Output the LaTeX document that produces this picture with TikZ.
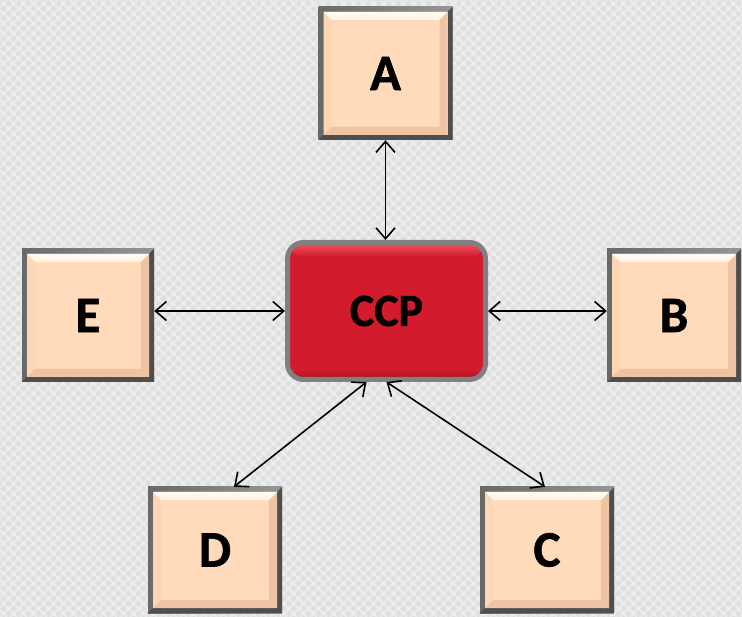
\documentclass[tikz,border=0pt]{standalone}
\usepackage{fontspec}
\setmainfont{Carlito}[BoldFeatures={FakeBold=1.2}]
\usetikzlibrary{calc,arrows.meta}

\definecolor{bgfill}{RGB}{222,222,222}
\definecolor{peach}{RGB}{255,219,188}
\definecolor{peachlight}{RGB}{255,244,226}
\definecolor{peachside}{RGB}{253,214,182}
\definecolor{peachdark}{RGB}{238,196,162}
\definecolor{framelight}{RGB}{150,150,150}
\definecolor{framedark}{RGB}{78,78,78}
\definecolor{ccpred}{RGB}{210,28,45}
\definecolor{ccpshine}{RGB}{242,86,100}
\definecolor{ccpshadow}{RGB}{160,20,32}
\definecolor{ccpframe}{RGB}{128,128,128}

\tikzset{
  % peach box with a grey frame and bevelled inner edges
  bevelbox/.style={rectangle, minimum width=134pt, minimum height=133pt,
    inner sep=0pt, fill=peach,
    font=\fontsize{51}{51}\selectfont\bfseries,
    path picture={
      \path (path picture bounding box.north west) coordinate (bb-nw)
            (path picture bounding box.north east) coordinate (bb-ne)
            (path picture bounding box.south west) coordinate (bb-sw)
            (path picture bounding box.south east) coordinate (bb-se);
      \fill[left color=framelight!70!black, right color=framelight] (bb-nw) rectangle (bb-se);
      \fill[framedark] (bb-ne) -- (bb-se) -- (bb-sw) -- ($(bb-sw)+(5pt,5pt)$)
        -- ($(bb-se)+(-5pt,5pt)$) -- ($(bb-ne)+(-5pt,-5pt)$) -- cycle;
      \fill[peach] ($(bb-nw)+(5pt,-5pt)$) rectangle ($(bb-se)+(-5pt,5pt)$);
      \fill[peachside] ($(bb-nw)+(5pt,-5pt)$) -- ($(bb-nw)+(13pt,-13pt)$)
        -- ($(bb-sw)+(13pt,13pt)$) -- ($(bb-sw)+(5pt,5pt)$) -- cycle;
      \fill[peachdark] ($(bb-ne)+(-5pt,-5pt)$) -- ($(bb-se)+(-5pt,5pt)$)
        -- ($(bb-sw)+(5pt,5pt)$) -- ($(bb-sw)+(13pt,13pt)$)
        -- ($(bb-se)+(-13pt,13pt)$) -- ($(bb-ne)+(-13pt,-13pt)$) -- cycle;
      \fill[top color=peachlight!50!white, bottom color=peachlight]
        ($(bb-nw)+(5pt,-5pt)$) -- ($(bb-ne)+(-5pt,-5pt)$)
        -- ($(bb-ne)+(-13pt,-13pt)$) -- ($(bb-nw)+(13pt,-13pt)$) -- cycle;
    }},
  % rounded red box in the middle
  ccpbox/.style={rectangle, rounded corners=16pt, minimum width=198pt,
    minimum height=137pt, inner sep=0pt, fill=ccpred, draw=ccpframe,
    line width=5pt, font=\fontsize{46}{46}\selectfont\bfseries,
    path picture={
      \path (path picture bounding box.north west) coordinate (bb-nw)
            (path picture bounding box.north east) coordinate (bb-ne)
            (path picture bounding box.south west) coordinate (bb-sw)
            (path picture bounding box.south east) coordinate (bb-se);
      \fill[top color=ccpshine, bottom color=ccpred]
        (bb-nw) rectangle ($(bb-ne)+(0,-14pt)$);
      \fill[top color=ccpred, bottom color=ccpshadow]
        ($(bb-sw)+(0,10pt)$) rectangle (bb-se);
    }},
  biarrow/.style={{Straight Barb[length=11pt,width=19pt]}-{Straight Barb[length=11pt,width=19pt]},
    line width=1.6pt, black},
  texture/.style={white, opacity=0.35, line width=2.5pt}
}

\begin{document}
\begin{tikzpicture}[x=1pt, y=-1pt]
  \useasboundingbox (0,0) rectangle (742,617);
  % textured light grey background
  \fill[bgfill] (0,0) rectangle (742,617);
  \begin{scope}
    \clip (0,0) rectangle (742,617);
    \foreach \k in {-620,-610,...,750} {
      \draw[texture] (\k,0) -- ++(617,617);
      \draw[texture] (\k,617) -- ++(617,-617);
    }
  \end{scope}

  \node[bevelbox] (A) at (385.5,73.5) {A};
  \node[bevelbox, minimum width=132pt] (E) at (88,315.5) {E};
  \node[bevelbox] (B) at (674,315.5) {B};
  \node[bevelbox, minimum height=126pt] (D) at (215,550) {D};
  \node[bevelbox, minimum height=126pt] (C) at (547,550) {C};
  \node[ccpbox] (ccp) at (386.5,311) {CCP};

  \coordinate (ccp-d) at ($(ccp.south)+(-20pt,0)$);
  \coordinate (d-top) at ($(D.north)+(19pt,0)$);
  \coordinate (c-top) at ($(C.north)+(-2pt,0)$);

  \draw[biarrow] (A.south) -- (A.south |- ccp.north);
  \draw[biarrow] (E.east |- ccp.west) -- (ccp.west);
  \draw[biarrow] (ccp.east) -- (B.west |- ccp.east);
  \draw[biarrow] (ccp-d) -- (d-top);
  \draw[biarrow] (ccp.south) -- (c-top);
\end{tikzpicture}
\end{document}
